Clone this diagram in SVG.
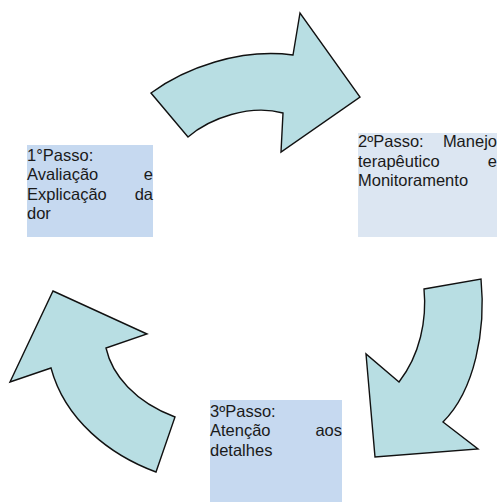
<svg xmlns="http://www.w3.org/2000/svg" width="499" height="502" viewBox="0 0 499 502">
  <style>
    .arrow { fill: #b8dee3; stroke: #111; stroke-width: 1.4; stroke-linejoin: miter; }
    .box-a { fill: #c6d9f0; }
    .box-b { fill: #dce6f2; }
    .label { font-family: "Liberation Sans", Arial, sans-serif; font-size: 16.5px; fill: #1a1a1a; }
    .end { text-anchor: end; }
  </style>
  <rect width="499" height="502" fill="#ffffff"/>

  <!-- curved arrows of the cycle -->
  <g id="connectors">
    <path id="arrow-1-2" class="arrow" d="M151,93 C185,68 240,48 293,55 L300,13 L360,97 L281,152 L283,113 C250,104 210,118 188,137 Z"/>
    <path id="arrow-2-3" class="arrow" d="M424,289 L481,279 C486,330 475,390 443,422 L478,449 L375,457 L366,354 L399,382 C420,355 427,320 424,289 Z"/>
    <path id="arrow-3-1" class="arrow" d="M53,291 L147,334 L106,348 C112,375 135,402 175,417 L156,472 C110,455 65,420 51,368 L10,382 Z"/>
  </g>

  <g id="step1">
    <rect class="box-a" x="27" y="145" width="126" height="92"/>
    <text class="label" x="27" y="160.5">1°Passo:</text>
    <text class="label" x="27" y="180">Avaliação</text>
    <text class="label end" x="153" y="180">e</text>
    <text class="label" x="27" y="199.5">Explicação</text>
    <text class="label end" x="153" y="199.5">da</text>
    <text class="label" x="27" y="218.5">dor</text>
  </g>

  <g id="step2">
    <rect class="box-b" x="358" y="133" width="139" height="104"/>
    <text class="label" x="358" y="147">2ºPasso:</text>
    <text class="label end" x="497" y="147">Manejo</text>
    <text class="label" x="358" y="166.5">terapêutico</text>
    <text class="label end" x="497" y="166.5">e</text>
    <text class="label" x="358" y="186">Monitoramento</text>
  </g>

  <g id="step3">
    <rect class="box-a" x="210" y="400" width="132" height="102"/>
    <text class="label" x="210" y="416.5">3ºPasso:</text>
    <text class="label" x="210" y="436">Atenção</text>
    <text class="label end" x="342" y="436">aos</text>
    <text class="label" x="210" y="455.5">detalhes</text>
  </g>
</svg>
